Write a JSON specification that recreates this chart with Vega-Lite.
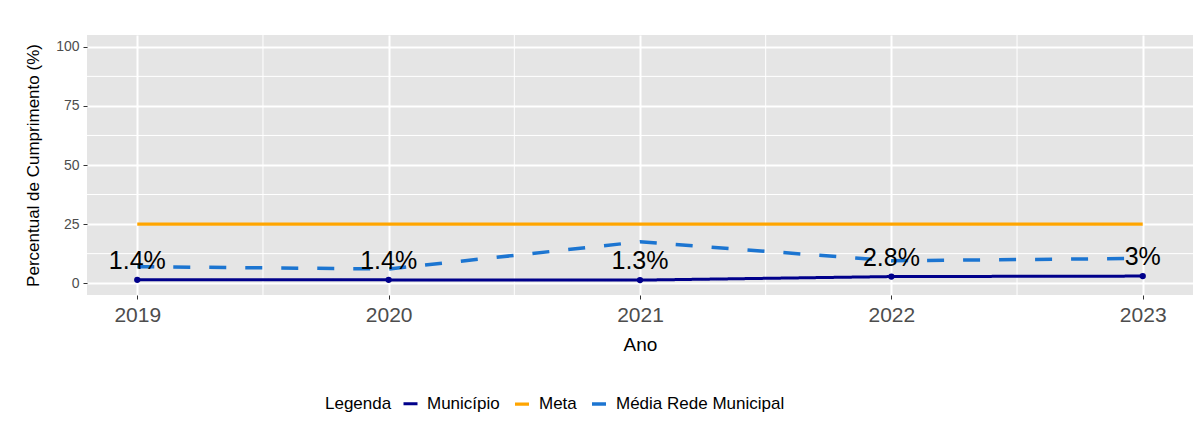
{
  "$schema": "https://vega.github.io/schema/vega-lite/v6.json",
  "autosize": {"type": "none"},
  "width": 1106,
  "height": 260,
  "padding": {"left": 87, "top": 35, "right": 4, "bottom": 141},
  "background": "white",
  "config": {
    "font": "Liberation Sans",
    "view": {"fill": "#E5E5E5", "stroke": null},
    "axis": {
      "domain": false,
      "grid": true,
      "gridColor": "white",
      "gridWidth": 2,
      "tickColor": "#333333",
      "tickSize": 4,
      "tickWidth": 1,
      "labelColor": "#4D4D4D",
      "titleColor": "#000000",
      "titleFontWeight": "normal",
      "labelFont": "Liberation Sans",
      "titleFont": "Liberation Sans"
    }
  },
  "datasets": {
    "main": [
      {"ano": 2019, "serie": "Município", "valor": 1.4, "rotulo": "1.4%"},
      {"ano": 2020, "serie": "Município", "valor": 1.4, "rotulo": "1.4%"},
      {"ano": 2021, "serie": "Município", "valor": 1.3, "rotulo": "1.3%"},
      {"ano": 2022, "serie": "Município", "valor": 2.8, "rotulo": "2.8%"},
      {"ano": 2023, "serie": "Município", "valor": 3.0, "rotulo": "3%"},
      {"ano": 2019, "serie": "Meta", "valor": 25},
      {"ano": 2020, "serie": "Meta", "valor": 25},
      {"ano": 2021, "serie": "Meta", "valor": 25},
      {"ano": 2022, "serie": "Meta", "valor": 25},
      {"ano": 2023, "serie": "Meta", "valor": 25},
      {"ano": 2019, "serie": "Média Rede Municipal", "valor": 7.0},
      {"ano": 2020, "serie": "Média Rede Municipal", "valor": 6.0},
      {"ano": 2021, "serie": "Média Rede Municipal", "valor": 17.5},
      {"ano": 2022, "serie": "Média Rede Municipal", "valor": 9.5},
      {"ano": 2023, "serie": "Média Rede Municipal", "valor": 10.5}
    ],
    "minorx": [{"m": 2019.5}, {"m": 2020.5}, {"m": 2021.5}, {"m": 2022.5}],
    "minory": [{"m": 12.5}, {"m": 37.5}, {"m": 62.5}, {"m": 87.5}]
  },
  "layer": [
    {
      "data": {"name": "minorx"},
      "mark": {"type": "rule", "color": "white", "strokeWidth": 1},
      "encoding": {
        "x": {"field": "m", "type": "quantitative",
          "scale": {"domain": [2018.8, 2023.2], "nice": false, "zero": false},
          "axis": {"values": [2019, 2020, 2021, 2022, 2023], "format": "d", "title": "Ano", "labelFontSize": 21, "titleFontSize": 19, "labelPadding": 5, "titlePadding": 10}}
      }
    },
    {
      "data": {"name": "minory"},
      "mark": {"type": "rule", "color": "white", "strokeWidth": 1},
      "encoding": {
        "y": {"field": "m", "type": "quantitative",
          "scale": {"domain": [-5, 105], "nice": false, "zero": false},
          "axis": {"values": [0, 25, 50, 75, 100], "title": "Percentual de Cumprimento (%)", "labelFontSize": 14, "titleFontSize": 17, "labelPadding": 4, "titlePadding": 13}}
      }
    },
    {
      "data": {"name": "main"},
      "mark": {"type": "line"},
      "encoding": {
        "x": {"field": "ano", "type": "quantitative",
          "scale": {"domain": [2018.8, 2023.2], "nice": false, "zero": false},
          "axis": {"values": [2019, 2020, 2021, 2022, 2023], "format": "d", "title": "Ano", "labelFontSize": 21, "titleFontSize": 19, "labelPadding": 5, "titlePadding": 10}},
        "y": {"field": "valor", "type": "quantitative",
          "scale": {"domain": [-5, 105], "nice": false, "zero": false},
          "axis": {"values": [0, 25, 50, 75, 100], "title": "Percentual de Cumprimento (%)", "labelFontSize": 14, "titleFontSize": 17, "labelPadding": 4, "titlePadding": 13}},
        "color": {
          "field": "serie", "type": "nominal",
          "scale": {"domain": ["Município", "Meta", "Média Rede Municipal"], "range": ["#00008B", "#FFA500", "#1C75D1"]},
          "legend": {
            "title": "Legenda",
            "orient": "none",
            "legendX": 238,
            "legendY": 360,
            "direction": "horizontal",
            "titleOrient": "left",
            "titleFontSize": 17,
            "titleFontWeight": "normal",
            "titleColor": "#000000",
            "titlePadding": 10,
            "labelFontSize": 17,
            "labelColor": "#000000",
            "labelLimit": 400,
            "symbolType": "stroke",
            "symbolSize": 196,
            "symbolStrokeWidth": 4,
            "labelOffset": 8,
            "columnPadding": 8
          }
        },
        "strokeDash": {
          "field": "serie", "type": "nominal",
          "scale": {"domain": ["Município", "Meta", "Média Rede Municipal"], "range": [[1, 0], [1, 0], [17, 19]]},
          "legend": null
        },
        "strokeWidth": {
          "field": "serie", "type": "nominal",
          "scale": {"domain": ["Município", "Meta", "Média Rede Municipal"], "range": [3, 3.5, 4]},
          "legend": null
        }
      }
    },
    {
      "data": {"name": "main"},
      "transform": [{"filter": "datum.serie === 'Município'"}],
      "mark": {"type": "circle", "size": 40, "opacity": 1, "color": "#00008B"},
      "encoding": {
        "x": {"field": "ano", "type": "quantitative"},
        "y": {"field": "valor", "type": "quantitative"}
      }
    },
    {
      "data": {"name": "main"},
      "transform": [{"filter": "datum.serie === 'Município'"}],
      "mark": {"type": "text", "fontSize": 25, "dy": -19, "color": "#000000", "font": "Liberation Sans"},
      "encoding": {
        "x": {"field": "ano", "type": "quantitative"},
        "y": {"field": "valor", "type": "quantitative"},
        "text": {"field": "rotulo"}
      }
    }
  ]
}
